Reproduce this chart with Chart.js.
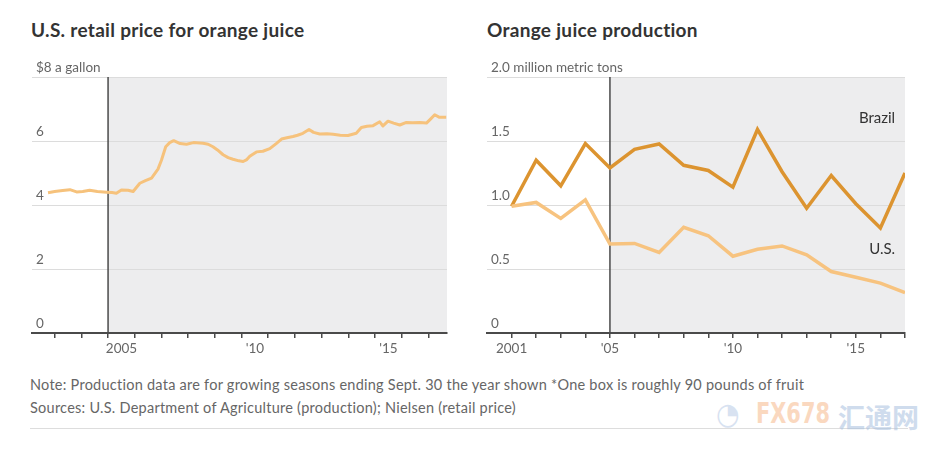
<!DOCTYPE html>
<html><head><meta charset="utf-8">
<script src="https://cdn.jsdelivr.net/npm/chart.js@4.4.0/dist/chart.umd.min.js"></script>
<style>
body{margin:0;background:#fff;width:938px;height:452px;overflow:hidden;position:relative;font-family:Lato,"Noto Sans",sans-serif;}
.title{position:absolute;top:18px;font-weight:bold;font-size:19px;letter-spacing:0.3px;color:#333;white-space:nowrap;}
canvas{position:absolute;top:0;}
.note{position:absolute;left:30px;font-size:14.5px;letter-spacing:0.25px;color:#666;white-space:nowrap;}
.rule{position:absolute;left:30px;top:428px;width:878px;height:1px;background:#ddd;}
.wm{position:absolute;top:396px;white-space:nowrap;font-family:"DejaVu Sans Condensed","DejaVu Sans",sans-serif;font-weight:bold;font-size:29px;opacity:0.55;}
</style></head>
<body>
<div class="title" style="left:31px">U.S. retail price for orange juice</div>
<div class="title" style="left:487px">Orange juice production</div>
<canvas id="c1" width="470" height="362" style="left:0"></canvas>
<canvas id="c2" width="468" height="362" style="left:470px"></canvas>
<div class="note" style="top:376px">Note: Production data are for growing seasons ending Sept. 30 the year shown *One box is roughly 90 pounds of fruit</div>
<div class="note" style="top:399px">Sources: U.S. Department of Agriculture (production); Nielsen (retail price)</div>
<div class="rule"></div>
<div class="wm" style="left:716px;color:#b9cbe6;font-size:30px">&#x25D4;</div>
<div class="wm" style="left:756px;color:#f6b98c;transform:scaleX(0.8);transform-origin:left">FX678</div>
<div class="wm" style="left:838px;color:#a8c0e0;font-family:'Noto Sans CJK SC';font-size:27px;top:397px">汇通网</div>
<script>
// ---- Data ----
const priceYears = [2002.75,2003.0,2003.3,2003.57,2003.82,2004.05,2004.31,2004.6,2004.94,2005.15,2005.31,2005.5,2005.75,2005.94,2006.19,2006.4,2006.63,2006.87,2007.0,2007.16,2007.31,2007.46,2007.7,2007.94,2008.2,2008.56,2008.75,2008.93,2009.1,2009.31,2009.5,2009.68,2009.9,2010.06,2010.2,2010.31,2010.56,2010.8,2011.06,2011.3,2011.5,2011.7,2011.93,2012.1,2012.3,2012.53,2012.7,2012.93,2013.2,2013.43,2013.7,2013.99,2014.3,2014.49,2014.7,2014.93,2015.18,2015.3,2015.49,2015.7,2015.93,2016.18,2016.4,2016.68,2016.93,2017.1,2017.24,2017.42,2017.67];
const priceValues = [4.38,4.42,4.45,4.48,4.41,4.42,4.46,4.42,4.40,4.39,4.37,4.47,4.46,4.42,4.68,4.76,4.84,5.12,5.4,5.82,5.95,6.01,5.92,5.9,5.95,5.93,5.9,5.82,5.72,5.57,5.48,5.43,5.38,5.36,5.42,5.52,5.66,5.68,5.76,5.92,6.06,6.1,6.14,6.18,6.24,6.36,6.27,6.22,6.23,6.21,6.18,6.17,6.24,6.42,6.46,6.48,6.6,6.47,6.62,6.56,6.5,6.58,6.57,6.58,6.56,6.7,6.82,6.74,6.74];
const priceTickYears = [2003,2004,2005,2006,2007,2008,2009,2010,2011,2012,2013,2014,2015,2016,2017];
const priceTickLabels = {2005:'2005',2010:"'10",2015:"'15"};
const priceYTicks = [0,2,4,6,8];
const priceYLabels = {0:'0',2:'2',4:'4',6:'6',8:'$8 a gallon'};

const prodYears = [2001,2002,2003,2004,2005,2006,2007,2008,2009,2010,2011,2012,2013,2014,2015,2016,2017];
const brazil = [0.99,1.35,1.15,1.48,1.29,1.435,1.477,1.31,1.27,1.14,1.59,1.26,0.975,1.23,1.01,0.82,1.25];
const us = [0.99,1.02,0.895,1.04,0.695,0.70,0.63,0.826,0.76,0.60,0.654,0.68,0.61,0.48,0.435,0.39,0.315];
const prodTickLabels = {2001:'2001',2005:"'05",2010:"'10",2015:"'15"};
const prodYLabels = {0:'0',0.5:'0.5',1:'1.0',1.5:'1.5',2:'2.0 million metric tons'};

const AX = '#4a4a4a';
const FONT = 'Lato, "Noto Sans", sans-serif';

function shadePlugin(startYear, topVal){
  return {
    id:'shade'+startYear,
    beforeDraw(chart){
      const {ctx, chartArea:a, scales:{x,y}} = chart;
      const x0 = x.getPixelForValue(startYear), yt = y.getPixelForValue(topVal);
      ctx.save(); ctx.fillStyle='#ededee';
      ctx.fillRect(x0, yt, a.right-x0, a.bottom-yt); ctx.restore();
    },
    beforeDatasetsDraw(chart){
      const {ctx, chartArea:a, scales:{x,y}} = chart;
      const x0 = x.getPixelForValue(startYear), yt = y.getPixelForValue(topVal);
      ctx.save(); ctx.strokeStyle=AX; ctx.lineWidth=1.5;
      ctx.beginPath(); ctx.moveTo(x0, yt); ctx.lineTo(x0, a.bottom); ctx.stroke(); ctx.restore();
    }
  };
}

function xScale(min,max,tickYears,labels,offset){
  return {
    type:'linear', min, max,
    afterBuildTicks(axis){ axis.ticks = tickYears.map(v=>({value:v})); },
    afterFit(axis){ axis.height = 29; },
    grid:{drawOnChartArea:false, drawTicks:true, tickLength:5, color:AX, lineWidth:1.5},
    border:{display:true, color:AX, width:2},
    ticks:{autoSkip:false, maxRotation:0, padding:3, labelOffset:offset, color:'#666',
      font:{family:FONT, size:13.5}, callback:(v)=>labels[v]||''}
  };
}
function yScale(min,max,tickVals,labels){
  return {
    type:'linear', min, max,
    afterBuildTicks(axis){ axis.ticks = tickVals.map(v=>({value:v})); },
    afterFit(axis){ axis.width = 0; },
    grid:{drawTicks:false, color:'#dcdcdc', lineWidth:1},
    border:{display:false},
    ticks:{mirror:true, padding:4, labelOffset:-9, color:'#666',
      font:{family:FONT, size:13.5}, callback:(v)=>labels[v]!==undefined?labels[v]:''}
  };
}

new Chart(document.getElementById('c1'), {
  type:'line',
  data:{datasets:[{data:priceYears.map((x,i)=>({x, y:priceValues[i]})),
    borderColor:'#f6c27c', borderWidth:3, pointRadius:0, tension:0, borderJoinStyle:'round'}]},
  options:{
    responsive:false, devicePixelRatio:1, animation:false,
    layout:{padding:{left:32, right:23, top:77, bottom:0}},
    plugins:{legend:{display:false}, tooltip:{enabled:false}},
    scales:{
      x: xScale(2002.15, 2017.7, priceTickYears, priceTickLabels, 13.4),
      y: yScale(0, 8, priceYTicks, priceYLabels)
    }
  },
  plugins:[shadePlugin(2005, 8)]
});

const labelPlugin = {
  id:'seriesLabels',
  afterDatasetsDraw(chart){
    const {ctx, scales:{x,y}} = chart;
    ctx.save(); ctx.fillStyle='#333'; ctx.font='15px '+FONT; ctx.textAlign='right'; ctx.textBaseline='middle';
    ctx.fillText('Brazil', x.getPixelForValue(2016.6), y.getPixelForValue(1.68));
    ctx.fillText('U.S.', x.getPixelForValue(2016.6), y.getPixelForValue(0.655));
    ctx.restore();
  }
};

new Chart(document.getElementById('c2'), {
  type:'line',
  data:{datasets:[
    {data:prodYears.map((x,i)=>({x, y:us[i]})), borderColor:'#f7c37f', borderWidth:3.5, pointRadius:0, tension:0},
    {data:prodYears.map((x,i)=>({x, y:brazil[i]})), borderColor:'#dc9430', borderWidth:3.5, pointRadius:0, tension:0}
  ]},
  options:{
    responsive:false, devicePixelRatio:1, animation:false,
    layout:{padding:{left:17, right:33, top:77, bottom:0}},
    plugins:{legend:{display:false}, tooltip:{enabled:false}},
    scales:{
      x: xScale(2000, 2017, prodYears, prodTickLabels, 0),
      y: yScale(0, 2, [0,0.5,1,1.5,2], prodYLabels)
    }
  },
  plugins:[shadePlugin(2005, 2), labelPlugin]
});
</script>
</body></html>
